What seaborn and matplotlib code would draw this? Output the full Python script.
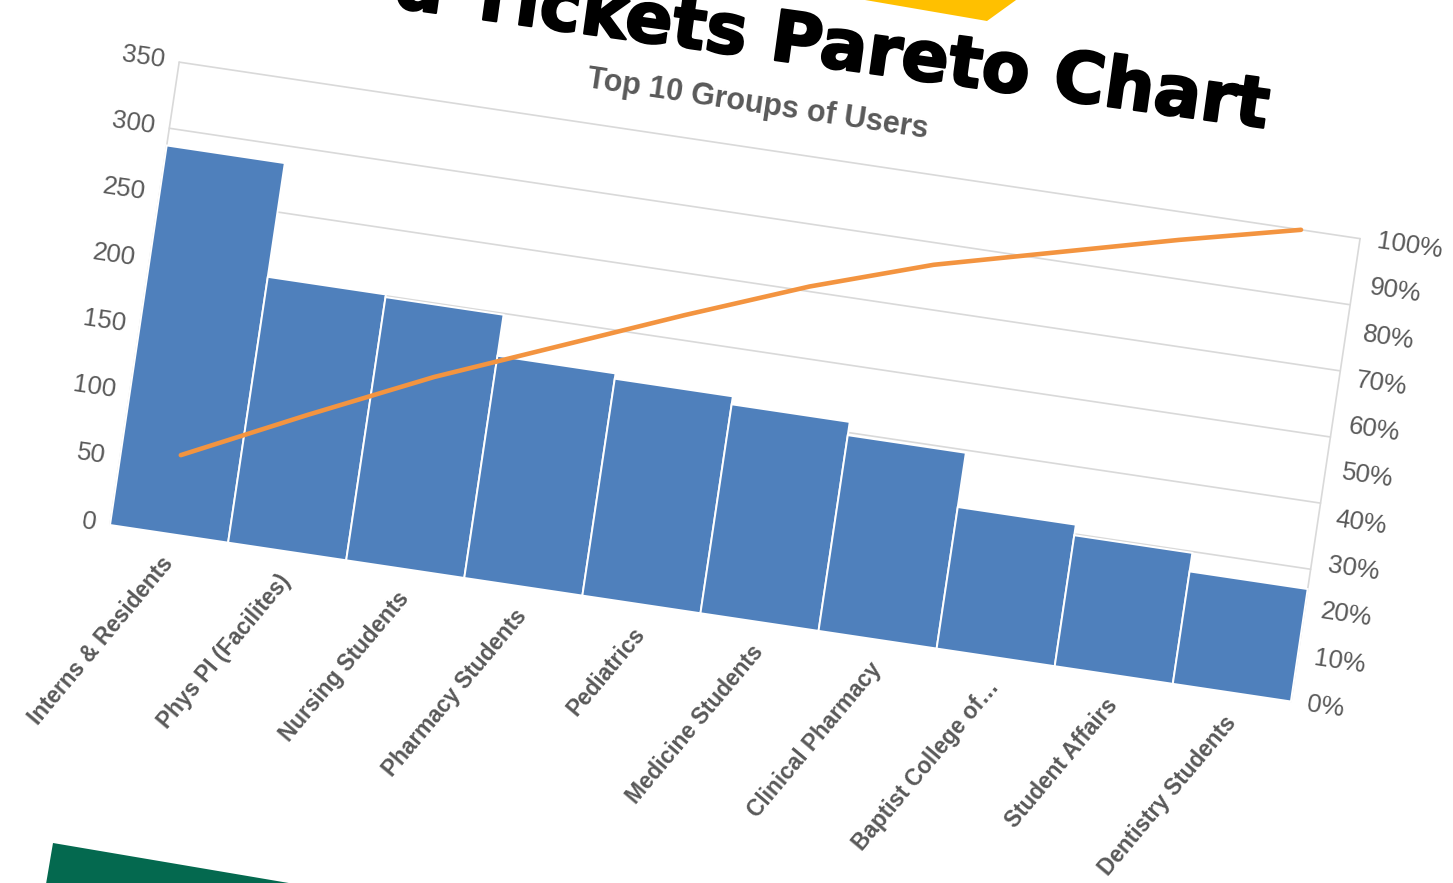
import numpy as np
import pandas as pd
import matplotlib
matplotlib.use("Agg")
import matplotlib.pyplot as plt
import matplotlib.transforms as mtransforms
import matplotlib.patheffects as pe
from matplotlib.patches import Polygon
import seaborn as sns

# ---------------- data ----------------
categories = ["Interns & Residents", "Phys PI (Facilites)", "Nursing Students",
              "Pharmacy Students", "Pediatrics", "Medicine Students",
              "Clinical Pharmacy", "Baptist College of\u2026", "Student Affairs",
              "Dentistry Students"]
tickets = [287, 201, 199, 168, 164, 158, 148, 107, 99, 85]
cumulative_pct = [17, 29.5, 41.5, 52, 62.5, 72.5, 81, 87.5, 94, 100]
count_ticks = [0, 50, 100, 150, 200, 250, 300, 350]
pct_ticks = [0, 10, 20, 30, 40, 50, 60, 70, 80, 90, 100]
chart_title = "Top 10 Groups of Users"
banner_title = "d Tickets Pareto Chart"

# ---------------- style ----------------
BLUE = "#4F80BC"
ORANGE = "#F39440"
GRID = "#D9D9D9"
TEXT = "#595959"

sns.set_style("white")
plt.rcParams["font.family"] = ["Liberation Sans", "DejaVu Sans"]

FIG_W, FIG_H = 1453, 883
fig = plt.figure(figsize=(FIG_W / 100, FIG_H / 100), dpi=100)
fig.patch.set_facecolor("white")

# geometry of the tilted plot area (pixels, display coords)
THETA = 8.5          # tilt in degrees (clockwise)
W, H = 1194, 468     # plot-area width / height in pixels
OX, OY = 110, FIG_H - 525
A = mtransforms.Affine2D().scale(W, H).rotate_deg(-THETA).translate(OX, OY)

ax = fig.add_axes([0, 0, 1, 1])
ax2 = fig.add_axes([0, 0, 1, 1])
ax2.patch.set_alpha(0)


def tilt(tr, axes):
    return tr + axes.transAxes.inverted() + A


n = len(categories)
df = pd.DataFrame({"group": categories, "tickets": tickets, "cum": cumulative_pct})

sns.barplot(data=df, x="group", y="tickets", color=BLUE, saturation=1,
            width=1.0, edgecolor="white", linewidth=1.4, ax=ax)
ax.set_xlim(-0.5, n - 0.5)
ax.set_ylim(count_ticks[0], count_ticks[-1])

sns.lineplot(data=df, x="group", y="cum", color=ORANGE, linewidth=3.3,
             sort=False, ax=ax2, solid_capstyle="round")
ax2.set_xlim(-0.5, n - 0.5)
ax2.set_ylim(pct_ticks[0], pct_ticks[-1])

for a in (ax, ax2):
    a.set_axis_off()

for p in ax.patches:
    p.set_transform(tilt(ax.transData, ax))
    p.set_clip_on(False)
    p.set_zorder(2)

for ln in ax2.lines:
    ln.set_transform(tilt(ax2.transData, ax2))
    ln.set_clip_on(False)
    ln.set_zorder(3)

# gridlines (primary axis)
for v in count_ticks[1:]:
    g = ax.axhline(v, color=GRID, lw=1.2, zorder=0.5)
    g.set_transform(tilt(ax.get_yaxis_transform(), ax))
    g.set_clip_on(False)

# vertical axis lines
for xv in (-0.5, n - 0.5):
    g = ax.axvline(xv, color=GRID, lw=1.2, zorder=0.6)
    g.set_transform(tilt(ax.get_xaxis_transform(), ax))
    g.set_clip_on(False)

# left tick labels
for v in count_ticks:
    ax.text(-0.012, v, f"{v}", transform=tilt(ax.get_yaxis_transform(), ax),
            ha="right", va="center", rotation=0, transform_rotates_text=True,
            rotation_mode="anchor", fontsize=18.5, color=TEXT, clip_on=False)

# right tick labels
for v in pct_ticks:
    ax2.text(1.014, v, f"{v}%", transform=tilt(ax2.get_yaxis_transform(), ax2),
             ha="left", va="center", rotation=0, transform_rotates_text=True,
             rotation_mode="anchor", fontsize=18.5, color=TEXT, clip_on=False)

# category labels
for i, cat in enumerate(categories):
    ax.text(i + 0.03, -0.055, cat, transform=tilt(ax.get_xaxis_transform(), ax),
            ha="right", va="center", rotation=50, rotation_mode="anchor",
            fontsize=16.3, fontweight="bold", color=TEXT, clip_on=False)

# chart title
ax.text(0.4845, 1.094, chart_title, transform=tilt(ax.transAxes, ax),
        ha="center", va="center", rotation=0, transform_rotates_text=True,
        rotation_mode="anchor", fontsize=22, fontweight="bold", color=TEXT,
        clip_on=False)

# big banner title (partly off the top of the picture)
fig.text(1265 / FIG_W, 1 - 128 / FIG_H, banner_title, ha="right", va="baseline",
         rotation=-7.9, rotation_mode="anchor", fontsize=50.5, fontweight="bold",
         family="DejaVu Sans", color="black", zorder=5,
         path_effects=[pe.withStroke(linewidth=1.6, foreground="black")])

# decorative shapes
def fig_poly(pts, color):
    poly = Polygon([(x / FIG_W, 1 - y / FIG_H) for x, y in pts], closed=True,
                   transform=fig.transFigure, facecolor=color, edgecolor="none",
                   zorder=4)
    fig.patches.append(poly)

fig_poly([(836, -5), (1023, -5), (987, 21)], "#FFC000")
fig_poly([(53, 843), (330, 890), (45, 890)], "#04694F")

fig.savefig("out.png", dpi=100, facecolor="white")
